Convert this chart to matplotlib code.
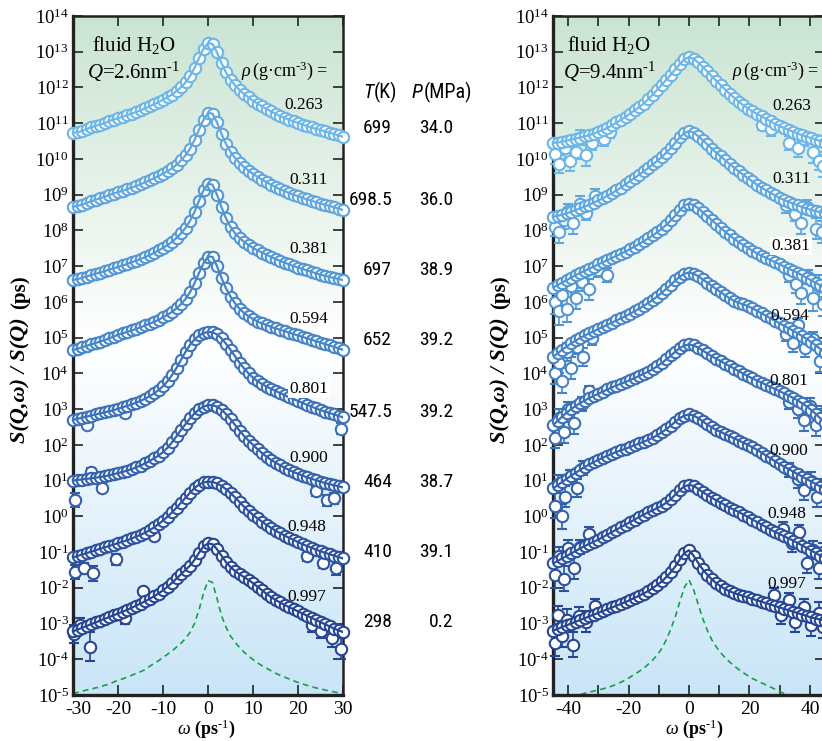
import numpy as np
import matplotlib
matplotlib.use("Agg")
import matplotlib.pyplot as plt
from matplotlib.ticker import NullLocator

plt.rcParams.update({
    "font.family": ["Liberation Serif", "DejaVu Serif"],
    "mathtext.fontset": "custom",
    "mathtext.rm": "Liberation Serif",
    "mathtext.it": "Liberation Serif:italic",
    "mathtext.bf": "Liberation Serif:bold",
    "axes.unicode_minus": False,
})

# ---------------------------------------------------------------- labels
densities = ["0.263", "0.311", "0.381", "0.594", "0.801", "0.900", "0.948", "0.997"]
temperatures = ["699", "698.5", "697", "652", "547.5", "464", "410", "298"]
pressures = ["34.0", "36.0", "38.9", "39.2", "39.2", "38.7", "39.1", "0.2"]

# ---------------------------------------------------------------- Q = 2.6 nm^-1
# energy-transfer grid (ps^-1) and log10 S(Q,w)/S(Q) for each density
omega_q26 = np.arange(-30.0, 30.5, 1.0)

s26_0263 = [10.73, 10.75, 10.78, 10.84, 10.88, 10.93, 10.96, 11.00, 11.06, 11.10,
            11.14, 11.18, 11.22, 11.27, 11.31, 11.36, 11.42, 11.47, 11.53, 11.59,
            11.66, 11.73, 11.80, 11.90, 12.01, 12.14, 12.32, 12.55, 12.82, 13.08,
            13.24,
            13.22, 12.98, 12.68, 12.42, 12.22, 12.06, 11.93, 11.82, 11.72, 11.63,
            11.55, 11.47, 11.40, 11.33, 11.26, 11.20, 11.15, 11.10, 11.05, 11.01,
            10.96, 10.92, 10.88, 10.84, 10.81, 10.77, 10.73, 10.70, 10.66, 10.62]
s26_0311 = [8.66, 8.69, 8.72, 8.77, 8.81, 8.86, 8.90, 8.94, 8.99, 9.03,
            9.07, 9.11, 9.15, 9.20, 9.24, 9.29, 9.35, 9.40, 9.46, 9.52,
            9.59, 9.66, 9.74, 9.84, 9.96, 10.10, 10.29, 10.53, 10.82, 11.10,
            11.28,
            11.27, 11.02, 10.70, 10.42, 10.20, 10.03, 9.89, 9.77, 9.67, 9.58,
            9.50, 9.42, 9.35, 9.28, 9.21, 9.15, 9.10, 9.05, 9.00, 8.96,
            8.91, 8.87, 8.83, 8.79, 8.75, 8.72, 8.68, 8.65, 8.61, 8.57]
s26_0381 = [6.61, 6.64, 6.67, 6.71, 6.75, 6.79, 6.82, 6.86, 6.90, 6.94,
            6.98, 7.02, 7.06, 7.11, 7.15, 7.20, 7.25, 7.31, 7.37, 7.44,
            7.51, 7.59, 7.68, 7.79, 7.92, 8.07, 8.27, 8.52, 8.83, 9.12,
            9.31,
            9.28, 9.00, 8.65, 8.34, 8.10, 7.92, 7.79, 7.68, 7.59, 7.51,
            7.44, 7.38, 7.32, 7.26, 7.20, 7.15, 7.10, 7.05, 7.00, 6.96,
            6.92, 6.88, 6.84, 6.80, 6.76, 6.73, 6.70, 6.67, 6.64, 6.61]
s26_0594 = [4.65, 4.69, 4.73, 4.77, 4.81, 4.85, 4.89, 4.93, 4.98, 5.03,
            5.08, 5.12, 5.16, 5.20, 5.24, 5.29, 5.34, 5.39, 5.44, 5.50,
            5.57, 5.64, 5.72, 5.82, 5.94, 6.08, 6.27, 6.52, 6.81, 7.08,
            7.27,
            7.26, 7.00, 6.67, 6.38, 6.15, 5.96, 5.81, 5.69, 5.60, 5.52,
            5.45, 5.40, 5.35, 5.30, 5.26, 5.22, 5.18, 5.14, 5.10, 5.06,
            5.02, 4.98, 4.94, 4.90, 4.86, 4.82, 4.78, 4.74, 4.70, 4.66]
s26_0801 = [2.70, 2.73, 2.76, 2.79, 2.82, 2.85, 2.88, 2.91, 2.94, 2.97,
            3.01, 3.05, 3.09, 3.13, 3.18, 3.23, 3.29, 3.36, 3.44, 3.53,
            3.64, 3.78, 3.95, 4.15, 4.38, 4.60, 4.80, 4.95, 5.06, 5.13,
            5.16,
            5.15, 5.09, 4.98, 4.83, 4.66, 4.48, 4.30, 4.14, 4.00, 3.88,
            3.78, 3.70, 3.63, 3.57, 3.51, 3.45, 3.39, 3.33, 3.28, 3.23,
            3.17, 3.12, 3.07, 3.02, 2.97, 2.93, 2.89, 2.85, 2.81, 2.77]
s26_0900 = [1.00, 1.02, 1.03, 1.05, 1.06, 1.08, 1.10, 1.12, 1.15, 1.18,
            1.21, 1.24, 1.28, 1.32, 1.37, 1.42, 1.48, 1.55, 1.62, 1.70,
            1.80, 1.92, 2.07, 2.24, 2.42, 2.58, 2.74, 2.88, 2.99, 3.07,
            3.11,
            3.11, 3.07, 2.98, 2.86, 2.72, 2.56, 2.40, 2.25, 2.12, 2.00,
            1.88, 1.77, 1.67, 1.58, 1.50, 1.43, 1.36, 1.30, 1.24, 1.19,
            1.14, 1.09, 1.05, 1.01, 0.97, 0.93, 0.90, 0.87, 0.84, 0.81]
s26_0948 = [-1.15, -1.11, -1.07, -1.03, -0.99, -0.95, -0.91, -0.87, -0.83, -0.79,
            -0.75, -0.71, -0.67, -0.62, -0.57, -0.52, -0.46, -0.39, -0.31, -0.22,
            -0.12, -0.01, 0.11, 0.24, 0.38, 0.52, 0.66, 0.79, 0.89, 0.95,
            0.97,
            0.96, 0.92, 0.85, 0.76, 0.65, 0.53, 0.40, 0.27, 0.15, 0.04,
            -0.06, -0.15, -0.24, -0.32, -0.40, -0.47, -0.54, -0.60, -0.66, -0.72,
            -0.78, -0.83, -0.88, -0.93, -0.98, -1.02, -1.06, -1.10, -1.14, -1.18]
s26_0997 = [-3.22, -3.17, -3.12, -3.07, -3.02, -2.97, -2.92, -2.87, -2.82, -2.77,
            -2.72, -2.67, -2.62, -2.56, -2.50, -2.44, -2.38, -2.31, -2.24, -2.16,
            -2.07, -1.97, -1.86, -1.74, -1.62, -1.50, -1.38, -1.22, -1.02, -0.84,
            -0.76,
            -0.78, -0.92, -1.10, -1.28, -1.42, -1.53, -1.62, -1.70, -1.78, -1.87,
            -1.97, -2.07, -2.17, -2.26, -2.34, -2.41, -2.48, -2.54, -2.60, -2.66,
            -2.72, -2.78, -2.84, -2.90, -2.96, -3.02, -3.08, -3.14, -3.19, -3.24]
res_q26 = [-4.95, -4.93, -4.90, -4.86, -4.84, -4.80, -4.78, -4.73, -4.70, -4.64,
           -4.58, -4.55, -4.50, -4.45, -4.40, -4.35, -4.29, -4.20, -4.12, -4.04,
           -3.95, -3.86, -3.77, -3.66, -3.55, -3.42, -3.25, -3.00, -2.62, -2.15,
           -1.80,
           -1.85, -2.30, -2.78, -3.10, -3.35, -3.52, -3.67, -3.80, -3.91, -4.01,
           -4.10, -4.18, -4.25, -4.32, -4.39, -4.45, -4.50, -4.55, -4.60, -4.65,
           -4.69, -4.73, -4.77, -4.80, -4.83, -4.86, -4.89, -4.91, -4.94, -4.97]

# scattered points with uncertainties: (omega, log10 S, log10 error)
x26_0801 = [(-27.0, 2.55, 0.10), (-18.4, 2.90, 0.10), (29.5, 2.45, 0.15)]
x26_0900 = [(-29.5, 0.45, 0.20), (-26.0, 1.25, 0.10), (-23.5, 0.80, 0.12),
            (24.0, 0.70, 0.12), (26.5, 0.45, 0.15), (28.0, 0.50, 0.15)]
x26_0948 = [(-29.5, -1.55, 0.20), (-27.5, -1.45, 0.15), (-25.5, -1.60, 0.20),
            (-20.5, -1.20, 0.15), (-12.0, -0.55, 0.10), (22.0, -1.10, 0.15),
            (25.5, -1.30, 0.15), (28.5, -1.45, 0.20)]
x26_0997 = [(-29.8, -3.30, 0.25), (-28.5, -3.05, 0.20), (-26.2, -3.65, 0.40),
            (-18.4, -2.85, 0.15), (-14.5, -2.10, 0.10), (23.0, -3.05, 0.20),
            (25.0, -3.20, 0.20), (27.5, -3.40, 0.25), (29.5, -3.70, 0.30)]

# ---------------------------------------------------------------- Q = 9.4 nm^-1
omega_q94 = np.arange(-45.0, 45.75, 1.5)

s94_0263 = [10.45, 10.46, 10.48, 10.51, 10.54, 10.57, 10.60, 10.63, 10.67, 10.71,
            10.76, 10.81, 10.87, 10.94, 11.02, 11.10, 11.18, 11.27, 11.36, 11.45,
            11.55, 11.67, 11.80, 11.94, 12.08, 12.22, 12.36, 12.51, 12.66, 12.79,
            12.85,
            12.80, 12.70, 12.58, 12.45, 12.32, 12.19, 12.06, 11.94, 11.82, 11.71,
            11.60, 11.50, 11.41, 11.33, 11.26, 11.19, 11.12, 11.05, 10.98, 10.92,
            10.86, 10.81, 10.76, 10.71, 10.66, 10.62, 10.58, 10.54, 10.50, 10.46]
s94_0311 = [8.38, 8.41, 8.44, 8.48, 8.52, 8.57, 8.62, 8.67, 8.72, 8.78,
            8.84, 8.90, 8.97, 9.04, 9.12, 9.20, 9.29, 9.38, 9.47, 9.56,
            9.65, 9.75, 9.85, 9.95, 10.06, 10.18, 10.31, 10.46, 10.61, 10.73,
            10.78,
            10.74, 10.64, 10.53, 10.41, 10.29, 10.18, 10.07, 9.96, 9.85, 9.75,
            9.65, 9.55, 9.46, 9.37, 9.28, 9.20, 9.12, 9.05, 8.98, 8.91,
            8.85, 8.80, 8.75, 8.70, 8.65, 8.61, 8.57, 8.54, 8.51, 8.48]
s94_0381 = [6.40, 6.47, 6.54, 6.61, 6.68, 6.75, 6.81, 6.87, 6.93, 6.99,
            7.05, 7.11, 7.17, 7.23, 7.29, 7.35, 7.41, 7.48, 7.55, 7.62,
            7.70, 7.78, 7.86, 7.95, 8.05, 8.16, 8.28, 8.42, 8.57, 8.70,
            8.75,
            8.71, 8.62, 8.51, 8.40, 8.29, 8.18, 8.07, 7.96, 7.86, 7.76,
            7.67, 7.59, 7.51, 7.43, 7.36, 7.29, 7.23, 7.17, 7.11, 7.05,
            6.99, 6.93, 6.87, 6.81, 6.74, 6.67, 6.60, 6.53, 6.46, 6.38]
s94_0594 = [4.46, 4.56, 4.66, 4.75, 4.84, 4.92, 4.99, 5.06, 5.12, 5.18,
            5.24, 5.30, 5.36, 5.42, 5.48, 5.54, 5.60, 5.67, 5.74, 5.81,
            5.89, 5.97, 6.06, 6.15, 6.26, 6.37, 6.48, 6.60, 6.71, 6.79,
            6.82,
            6.79, 6.72, 6.63, 6.54, 6.45, 6.36, 6.27, 6.18, 6.10, 6.02,
            5.97, 5.93, 5.88, 5.82, 5.75, 5.68, 5.61, 5.54, 5.47, 5.40,
            5.33, 5.26, 5.19, 5.12, 5.04, 4.96, 4.87, 4.78, 4.68, 4.58]
s94_0801 = [2.55, 2.67, 2.79, 2.90, 3.00, 3.09, 3.17, 3.24, 3.31, 3.37,
            3.43, 3.49, 3.55, 3.61, 3.66, 3.71, 3.76, 3.81, 3.87, 3.93,
            3.99, 4.05, 4.12, 4.20, 4.29, 4.39, 4.50, 4.61, 4.71, 4.78,
            4.81,
            4.78, 4.72, 4.64, 4.56, 4.48, 4.41, 4.34, 4.27, 4.20, 4.13,
            4.06, 3.99, 3.92, 3.86, 3.80, 3.74, 3.68, 3.62, 3.56, 3.50,
            3.44, 3.38, 3.31, 3.24, 3.16, 3.07, 2.97, 2.86, 2.74, 2.60]
s94_0900 = [0.78, 0.87, 0.96, 1.05, 1.14, 1.22, 1.30, 1.38, 1.45, 1.52,
            1.58, 1.64, 1.70, 1.75, 1.80, 1.85, 1.89, 1.94, 1.99, 2.04,
            2.09, 2.14, 2.20, 2.27, 2.35, 2.44, 2.54, 2.65, 2.75, 2.82,
            2.85,
            2.82, 2.75, 2.66, 2.57, 2.49, 2.42, 2.36, 2.30, 2.24, 2.18,
            2.12, 2.06, 2.00, 1.93, 1.86, 1.78, 1.70, 1.62, 1.54, 1.46,
            1.39, 1.32, 1.25, 1.18, 1.11, 1.04, 0.97, 0.90, 0.83, 0.76]
s94_0948 = [-1.32, -1.25, -1.18, -1.11, -1.04, -0.97, -0.90, -0.83, -0.77, -0.71,
            -0.65, -0.58, -0.51, -0.44, -0.37, -0.30, -0.23, -0.16, -0.09, -0.02,
            0.05, 0.11, 0.17, 0.23, 0.30, 0.38, 0.48, 0.61, 0.74, 0.84,
            0.88,
            0.85, 0.77, 0.68, 0.60, 0.52, 0.45, 0.38, 0.31, 0.24, 0.18,
            0.12, 0.05, -0.02, -0.09, -0.16, -0.23, -0.30, -0.37, -0.44, -0.50,
            -0.56, -0.62, -0.68, -0.75, -0.82, -0.89, -0.96, -1.03, -1.10, -1.17]
s94_0997 = [-3.20, -3.15, -3.10, -3.05, -3.00, -2.95, -2.90, -2.85, -2.80, -2.75,
            -2.70, -2.65, -2.60, -2.55, -2.50, -2.45, -2.40, -2.34, -2.28, -2.22,
            -2.16, -2.09, -2.01, -1.92, -1.82, -1.70, -1.56, -1.40, -1.20, -1.02,
            -0.95,
            -1.10, -1.30, -1.48, -1.63, -1.76, -1.87, -1.96, -2.04, -2.10, -2.15,
            -2.19, -2.23, -2.27, -2.31, -2.35, -2.39, -2.43, -2.47, -2.51, -2.55,
            -2.59, -2.63, -2.67, -2.71, -2.75, -2.79, -2.83, -2.86, -2.89, -2.92]
res_q94 = [-5.30, -5.25, -5.20, -5.15, -5.10, -5.05, -4.99, -4.95, -4.92, -4.89,
           -4.86, -4.83, -4.79, -4.75, -4.70, -4.64, -4.58, -4.50, -4.42, -4.34,
           -4.25, -4.14, -4.02, -3.88, -3.70, -3.45, -3.15, -2.80, -2.38, -1.98,
           -1.78,
           -2.05, -2.45, -2.85, -3.18, -3.45, -3.65, -3.82, -3.96, -4.08, -4.19,
           -4.29, -4.38, -4.46, -4.54, -4.60, -4.66, -4.72, -4.78, -4.84, -4.90,
           -4.96, -5.02, -5.08, -5.14, -5.20, -5.25, -5.30, -5.35, -5.40, -5.45]

x94_0263 = [(-44.5, 10.15, 0.30), (-43.0, 9.85, 0.25), (-41.0, 10.30, 0.30),
            (-39.5, 9.95, 0.30), (-37.5, 10.20, 0.20), (-36.0, 10.60, 0.20),
            (-34.0, 10.10, 0.30), (-32.0, 10.45, 0.20), (-28.0, 10.55, 0.20),
            (-26.0, 10.75, 0.15), (24.0, 10.95, 0.15), (27.0, 10.85, 0.20),
            (33.0, 10.45, 0.20), (36.0, 10.30, 0.25), (38.0, 10.55, 0.20),
            (41.0, 10.20, 0.30), (43.0, 9.95, 0.25), (44.5, 9.80, 0.30)]
x94_0311 = [(-44.5, 8.10, 0.25), (-43.0, 7.95, 0.30), (-41.5, 8.30, 0.25),
            (-40.0, 8.55, 0.20), (-38.5, 8.20, 0.30), (-36.0, 8.75, 0.20),
            (-34.0, 8.50, 0.20), (-31.0, 8.95, 0.20), (32.0, 8.70, 0.20),
            (35.0, 8.45, 0.20), (37.0, 8.20, 0.30), (39.0, 8.65, 0.20),
            (42.0, 8.05, 0.30), (44.0, 7.95, 0.30)]
x94_0381 = [(-44.5, 6.00, 0.35), (-43.0, 5.75, 0.40), (-42.0, 6.20, 0.30),
            (-40.5, 5.80, 0.35), (-39.0, 6.45, 0.30), (-37.5, 6.10, 0.30),
            (-35.5, 6.55, 0.25), (-33.0, 6.35, 0.30), (-30.0, 6.90, 0.20),
            (-27.0, 6.75, 0.20), (33.0, 6.75, 0.20), (35.5, 6.50, 0.25),
            (37.0, 6.25, 0.30), (39.5, 6.70, 0.20), (41.0, 6.10, 0.35),
            (43.0, 6.45, 0.30), (44.5, 5.95, 0.35)]
x94_0594 = [(-44.5, 4.00, 0.30), (-43.0, 4.30, 0.30), (-42.0, 3.80, 0.35),
            (-40.5, 4.60, 0.25), (-39.0, 4.15, 0.30), (-37.0, 4.75, 0.20),
            (-35.0, 4.45, 0.25), (-32.0, 5.00, 0.20), (32.0, 5.10, 0.20),
            (34.5, 4.85, 0.25), (36.0, 5.35, 0.20), (38.5, 4.70, 0.25),
            (41.0, 4.95, 0.20), (43.5, 4.35, 0.30)]
x94_0801 = [(-44.5, 2.20, 0.30), (-43.0, 2.75, 0.25), (-41.5, 2.35, 0.30),
            (-40.0, 3.00, 0.20), (-38.0, 2.60, 0.30), (-35.5, 3.15, 0.20),
            (-33.0, 3.50, 0.15), (33.0, 3.20, 0.20), (36.0, 3.00, 0.25),
            (38.0, 2.70, 0.30), (40.0, 3.10, 0.20), (42.0, 2.55, 0.30),
            (44.0, 2.85, 0.25)]
x94_0900 = [(-44.5, 0.30, 0.35), (-43.5, 0.90, 0.25), (-42.0, 0.00, 0.35),
            (-41.0, 0.55, 0.30), (-39.5, 1.10, 0.20), (-37.0, 0.80, 0.25),
            (-35.0, 1.35, 0.20), (33.0, 1.30, 0.20), (36.0, 1.05, 0.25),
            (38.0, 0.75, 0.30), (40.5, 1.00, 0.25), (42.5, 0.55, 0.30),
            (44.5, 0.80, 0.25)]
x94_0948 = [(-44.5, -1.65, 0.35), (-43.0, -1.10, 0.25), (-41.5, -1.75, 0.35),
            (-40.0, -0.90, 0.25), (-38.0, -1.45, 0.30), (-36.0, -0.85, 0.20),
            (-33.0, -0.50, 0.20), (31.0, -0.35, 0.20), (34.0, -0.75, 0.25),
            (36.5, -0.45, 0.20), (39.0, -1.30, 0.30), (41.0, -0.95, 0.25),
            (43.0, -1.45, 0.30), (44.5, -1.00, 0.25)]
x94_0997 = [(-44.5, -3.55, 0.35), (-43.5, -2.75, 0.25), (-42.0, -3.35, 0.30),
            (-40.5, -2.90, 0.30), (-38.5, -3.60, 0.35), (-36.5, -2.80, 0.25),
            (-34.0, -2.95, 0.30), (-31.0, -2.50, 0.20), (28.0, -2.20, 0.20),
            (30.5, -2.75, 0.25), (33.0, -2.35, 0.20), (35.0, -2.95, 0.30),
            (38.0, -2.55, 0.25), (40.5, -3.05, 0.30), (43.0, -2.70, 0.30),
            (44.5, -3.10, 0.30)]

spectra_q26 = [s26_0263, s26_0311, s26_0381, s26_0594, s26_0801, s26_0900, s26_0948, s26_0997]
extras_q26 = [[], [], [], [], x26_0801, x26_0900, x26_0948, x26_0997]
spectra_q94 = [s94_0263, s94_0311, s94_0381, s94_0594, s94_0801, s94_0900, s94_0948, s94_0997]
extras_q94 = [x94_0263, x94_0311, x94_0381, x94_0594, x94_0801, x94_0900, x94_0948, x94_0997]

# ---------------------------------------------------------------- style
colors = ["#6cb6e8", "#5fa7de", "#5197d4", "#4585c8", "#3b71b8",
          "#3361ac", "#2c529f", "#264694"]
green = "#17a04a"

W, H = 822, 741


def fx(px):
    return px / W


def fy(py):
    return 1.0 - py / H


def decade_label(n):
    if n < 0:
        return r"$10^{\text{-}%d}$" % (-n)
    return r"$10^{%d}$" % n


def paint_background(rect):
    bg = fig.add_axes(rect, zorder=0)
    pos = np.linspace(0.0, 1.0, 400)
    top = np.array([202, 228, 210]) / 255.0
    bot = np.array([201, 229, 247]) / 255.0
    img = np.empty((pos.size, 1, 3))
    for k in range(3):
        img[:, 0, k] = np.interp(pos, [0.0, 0.48, 1.0], [top[k], 1.0, bot[k]])
    bg.imshow(img, aspect="auto", extent=[0, 1, 0, 1], interpolation="bilinear")
    bg.set_axis_off()


def draw_panel(rect, omega, spectra, extras, resolution, xlim, xticks, xticklabels,
               corner_label=None):
    paint_background(rect)
    ax = fig.add_axes(rect, zorder=1)
    ax.set_facecolor("none")
    ax.set_yscale("log")
    for vals, extra, col in zip(spectra, extras, colors):
        if extra:
            w, v, e = np.array(extra).T
            y = 10.0 ** v
            lo = y - 10.0 ** (v - e)
            hi = 10.0 ** (v + e) - y
            ax.errorbar(w, y, yerr=[lo, hi], fmt="o", ms=8.2, mfc="white", mec=col,
                        mew=1.5, ecolor=col, elinewidth=1.2, capsize=3.8,
                        capthick=1.2, zorder=3, clip_on=False)
        y = 10.0 ** np.array(vals)
        ax.plot(omega, y, "o", ms=8.2, mfc="white", mec=col, mew=1.5,
                zorder=3.2, clip_on=False)
        ax.plot(omega, y, "-", color=col, lw=1.6, zorder=3.4)
    ax.plot(omega, 10.0 ** np.array(resolution), color=green, lw=1.2,
            ls=(0, (3.5, 2.5)), zorder=2.5)

    ax.set_xlim(*xlim)
    ax.set_ylim(1e-5, 1e14)
    ax.set_xticks(xticks)
    ax.set_xticklabels(xticklabels)
    ax.set_yticks([10.0 ** n for n in range(-5, 15)])
    ax.set_yticklabels([decade_label(n) for n in range(-5, 15)])
    ax.yaxis.set_minor_locator(NullLocator())
    ax.xaxis.set_minor_locator(NullLocator())
    ax.tick_params(which="major", direction="in", length=7.5, width=1.2,
                   top=True, right=True, color="#222222")
    ax.tick_params(axis="y", pad=3, labelsize=13.5)
    ax.tick_params(axis="x", pad=4.5, labelsize=14)
    # the leftmost x label sits just right of the lowest decade label
    if corner_label is not None:
        ax.annotate(corner_label, xy=(xlim[0], 0.0), xycoords=("data", "axes fraction"),
                    xytext=(3.5, -4.5), textcoords="offset points",
                    ha="center", va="top", fontsize=14)
    for name, sp in ax.spines.items():
        sp.set_linewidth(2.4 if name in ("left", "bottom") else 1.8)
        sp.set_color("#222222")
    return ax


fig = plt.figure(figsize=(W / 100, H / 100), dpi=100)

rect_left = [fx(73), fy(695), 270 / W, 679 / H]
rect_right = [fx(553), fy(695), 272 / W, 679 / H]

draw_panel(rect_left, omega_q26, spectra_q26, extras_q26, res_q26, (-30, 30),
           [-30, -20, -10, 0, 10, 20, 30], ["", "-20", "-10", "0", "10", "20", "30"],
           corner_label="-30")
draw_panel(rect_right, omega_q94, spectra_q94, extras_q94, res_q94, (-45, 45),
           [-40, -30, -20, -10, 0, 10, 20, 30, 40],
           ["-40", "", "-20", "", "0", "", "20", "", "40"])

# ---------------------------------------------------------------- annotations
fig.text(fx(92), fy(45), r"fluid H$_2$O", fontsize=15, va="center", ha="left", zorder=5)
fig.text(fx(87), fy(72), r"$Q$=2.6nm$^{\text{-}1}$", fontsize=15, va="center", ha="left", zorder=5)
fig.text(fx(241), fy(71), r"$\rho\,$(g·cm$^{\text{-}3}$) =", fontsize=13, va="center", ha="left", zorder=5)

fig.text(fx(567), fy(45), r"fluid H$_2$O", fontsize=15, va="center", ha="left", zorder=5)
fig.text(fx(563), fy(72), r"$Q$=9.4nm$^{\text{-}1}$", fontsize=15, va="center", ha="left", zorder=5)
fig.text(fx(732), fy(71), r"$\rho\,$(g·cm$^{\text{-}3}$) =", fontsize=13, va="center", ha="left", zorder=5)

left_label_xy = [(304, 105), (309, 180), (309, 249), (309, 319),
                 (309, 389), (309, 458), (307, 527), (307, 597)]
right_label_xy = [(792, 106), (792, 179), (791, 246), (790, 316),
                  (789, 381), (789, 451), (787, 514), (787, 584)]
left_boxed = {"0.801"}
right_boxed = {"0.381"}
for d, (px, py) in zip(densities, left_label_xy):
    box = dict(facecolor="white", edgecolor="none", pad=1.0) if d in left_boxed else None
    fig.text(fx(px), fy(py), d, fontsize=12.5, ha="center", va="center", bbox=box, zorder=5)
for d, (px, py) in zip(densities, right_label_xy):
    box = dict(facecolor="white", edgecolor="none", pad=1.0) if d in right_boxed else None
    fig.text(fx(px), fy(py), d, fontsize=12.5, ha="center", va="center", bbox=box, zorder=5)

sans = ["Liberation Sans Narrow", "Roboto Condensed", "Liberation Sans"]
fig.text(fx(363), fy(92), "T", fontsize=14.5, family=sans, style="italic", ha="left", va="center")
fig.text(fx(374), fy(92), "(K)", fontsize=14.5, family=sans, ha="left", va="center")
fig.text(fx(412), fy(92), "P", fontsize=14.5, family=sans, style="italic", ha="left", va="center")
fig.text(fx(424), fy(92), "(MPa)", fontsize=14.5, family=sans, ha="left", va="center")
row_y = [128, 200, 270, 340, 412, 482, 552, 622]
for t, p, py in zip(temperatures, pressures, row_y):
    fig.text(fx(392), fy(py), t, fontsize=14, family=sans, ha="right", va="center")
    fig.text(fx(453), fy(py), p, fontsize=14, family=sans, ha="right", va="center")

# axis titles
for xpix in (20, 500):
    fig.text(fx(xpix), fy(443), "S(Q,ω) / S(Q)", rotation=90, fontsize=16,
             weight="bold", style="italic", ha="center", va="bottom")
    fig.text(fx(xpix), fy(309), "(ps)", rotation=90, fontsize=15,
             weight="bold", ha="center", va="bottom")
for xpix in (206, 694):
    fig.text(fx(xpix), fy(740.5), r"$\omega$ (ps$^{\text{-}1}$)", fontsize=13,
             weight="bold", ha="center", va="bottom")

fig.savefig("out.png", dpi=100)
